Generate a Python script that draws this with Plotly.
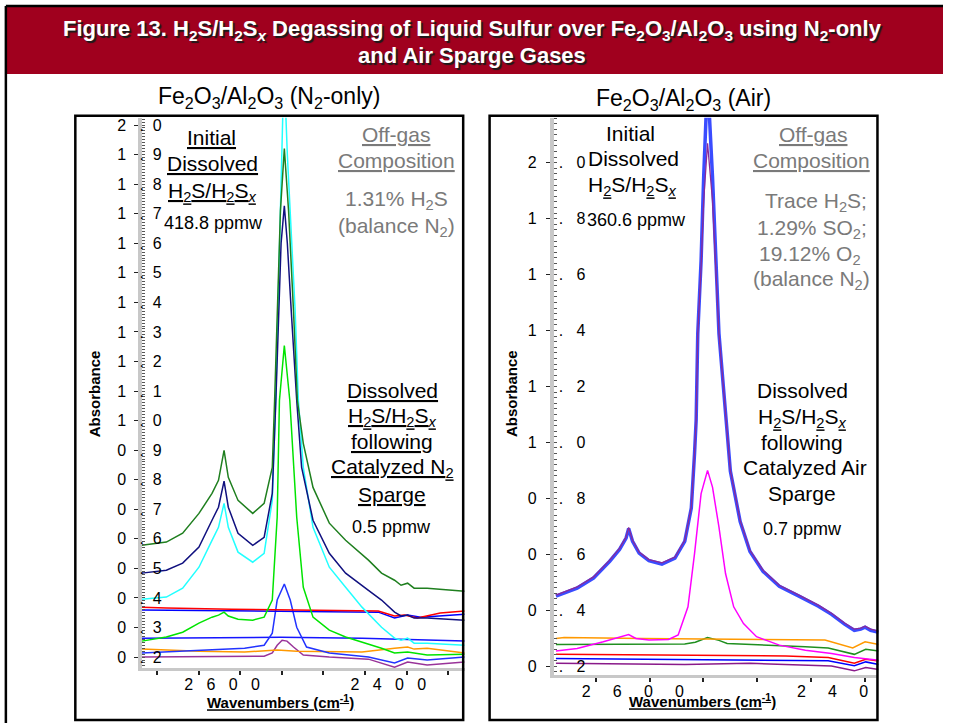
import plotly.graph_objects as go

W, H = 964, 723
FONT = "Liberation Sans, Arial, Helvetica, sans-serif"

# ---------------- Left panel: Fe2O3/Al2O3 (N2-only) ----------------
n2_dkgreen_x = [2696.5, 2667.0, 2647.4, 2627.8, 2612.1, 2604.3, 2597.6, 2592.5, 2580.8, 2563.1, 2549.4, 2539.6, 2536.8, 2533.8, 2529.8, 2525.1, 2520.0, 2514.1, 2509.4, 2502.3, 2490.6, 2471.0, 2451.4, 2423.9, 2408.2, 2392.5, 2384.7, 2376.8, 2369.0, 2353.3, 2308.2]
n2_dkgreen_y = [0.578, 0.589, 0.619, 0.686, 0.754, 0.798, 0.899, 0.808, 0.730, 0.686, 0.720, 0.842, 1.068, 1.372, 1.710, 1.920, 1.710, 1.372, 1.068, 0.923, 0.774, 0.653, 0.595, 0.528, 0.484, 0.460, 0.443, 0.450, 0.433, 0.433, 0.423]

n2_navy_x = [2696.5, 2667.0, 2647.4, 2627.8, 2612.1, 2604.3, 2597.6, 2592.5, 2580.8, 2563.1, 2549.4, 2539.6, 2535.3, 2531.8, 2529.0, 2525.1, 2521.5, 2516.8, 2510.2, 2504.3, 2490.6, 2471.0, 2451.4, 2423.9, 2408.2, 2392.5, 2384.7, 2376.8, 2369.0, 2353.3, 2308.2]
n2_navy_y = [0.484, 0.494, 0.518, 0.572, 0.663, 0.707, 0.795, 0.707, 0.619, 0.578, 0.605, 0.754, 1.068, 1.372, 1.600, 1.727, 1.600, 1.372, 1.068, 0.842, 0.663, 0.551, 0.484, 0.426, 0.393, 0.352, 0.339, 0.342, 0.332, 0.332, 0.325]

n2_cyan_x = [2696.5, 2667.0, 2647.4, 2627.8, 2612.1, 2604.3, 2597.6, 2592.5, 2580.8, 2563.1, 2549.4, 2539.6, 2535.5, 2533.0, 2529.8, 2525.5, 2521.5, 2518.0, 2512.1, 2508.2, 2502.3, 2490.6, 2471.0, 2451.4, 2431.7, 2408.2, 2392.5, 2384.7, 2376.8, 2369.0, 2353.3, 2308.2]
n2_cyan_y = [0.396, 0.403, 0.433, 0.504, 0.595, 0.639, 0.720, 0.639, 0.555, 0.521, 0.551, 0.730, 1.068, 1.372, 1.710, 2.200, 1.900, 1.710, 1.372, 1.068, 0.842, 0.639, 0.504, 0.436, 0.369, 0.301, 0.264, 0.257, 0.264, 0.247, 0.247, 0.240]

n2_lime_x = [2696.5, 2667.0, 2647.4, 2627.8, 2612.1, 2604.3, 2597.6, 2592.5, 2580.8, 2563.1, 2549.4, 2539.6, 2533.7, 2531.0, 2525.1, 2518.5, 2510.2, 2502.3, 2490.6, 2471.0, 2451.4, 2431.7, 2408.2, 2392.5, 2376.8, 2353.3, 2308.2]
n2_lime_y = [0.254, 0.268, 0.284, 0.315, 0.335, 0.342, 0.352, 0.339, 0.328, 0.325, 0.335, 0.393, 0.673, 1.068, 1.254, 1.068, 0.673, 0.436, 0.335, 0.291, 0.268, 0.251, 0.230, 0.214, 0.217, 0.207, 0.210]

n2_red_x = [2696.5, 2667.0, 2588.6, 2478.8, 2412.1, 2392.5, 2380.8, 2365.1, 2337.6, 2308.2]
n2_red_y = [0.369, 0.366, 0.362, 0.359, 0.356, 0.339, 0.342, 0.332, 0.349, 0.356]

n2_blue_hi_x = [2696.5, 2588.6, 2412.1, 2392.5, 2376.8, 2361.1, 2308.2]
n2_blue_hi_y = [0.359, 0.356, 0.352, 0.332, 0.342, 0.335, 0.345]

n2_blue_mid_x = [2696.5, 2529.8, 2431.7, 2308.2]
n2_blue_mid_y = [0.264, 0.267, 0.264, 0.254]

n2_blue_peak_x = [2696.5, 2627.8, 2572.9, 2549.4, 2539.6, 2533.7, 2525.1, 2518.0, 2510.2, 2498.4, 2471.0, 2423.9, 2392.5, 2376.8, 2353.3, 2308.2]
n2_blue_peak_y = [0.214, 0.224, 0.230, 0.240, 0.281, 0.393, 0.447, 0.393, 0.301, 0.234, 0.214, 0.200, 0.180, 0.197, 0.190, 0.200]

n2_orange_x = [2696.5, 2627.8, 2572.9, 2533.7, 2510.2, 2431.7, 2392.5, 2376.8, 2369.0, 2353.3, 2308.2]
n2_orange_y = [0.227, 0.220, 0.217, 0.224, 0.220, 0.217, 0.230, 0.234, 0.227, 0.230, 0.214]

n2_purple_x = [2696.5, 2596.5, 2549.4, 2539.6, 2533.7, 2527.8, 2521.9, 2514.1, 2502.3, 2471.0, 2423.9, 2392.5, 2376.8, 2353.3, 2308.2]
n2_purple_y = [0.200, 0.203, 0.203, 0.214, 0.240, 0.257, 0.254, 0.234, 0.207, 0.200, 0.193, 0.166, 0.183, 0.173, 0.183]

# ---------------- Right panel: Fe2O3/Al2O3 (Air) ----------------
air_big_x = [2671.5, 2651.8, 2636.6, 2621.5, 2612.4, 2606.3, 2603.9, 2600.3, 2594.2, 2585.1, 2573.0, 2560.9, 2551.8, 2545.7, 2542.7, 2541.2, 2539.7, 2536.6, 2534.2, 2530.6, 2526.0, 2523.0, 2520.0, 2513.3, 2509.4, 2500.3, 2491.2, 2479.1, 2463.9, 2445.7, 2427.6, 2415.4, 2403.3, 2394.2, 2388.2, 2384.2, 2379.1, 2371.5]
air_bigblue_y = [0.450, 0.479, 0.515, 0.575, 0.617, 0.658, 0.692, 0.646, 0.604, 0.577, 0.565, 0.586, 0.646, 0.765, 0.960, 1.079, 1.389, 1.650, 1.950, 2.300, 1.950, 1.650, 1.389, 1.079, 0.897, 0.717, 0.610, 0.539, 0.485, 0.450, 0.414, 0.385, 0.350, 0.328, 0.332, 0.339, 0.328, 0.321]
air_bigpurple_y = [0.454, 0.483, 0.519, 0.579, 0.621, 0.662, 0.696, 0.650, 0.608, 0.581, 0.569, 0.590, 0.650, 0.769, 0.961, 1.079, 1.389, 1.626, 1.864, 2.070, 1.864, 1.626, 1.389, 1.079, 0.900, 0.721, 0.614, 0.543, 0.489, 0.454, 0.418, 0.389, 0.354, 0.332, 0.336, 0.343, 0.332, 0.325]

air_magenta_x = [2671.5, 2651.8, 2627.5, 2609.4, 2603.9, 2597.2, 2585.1, 2566.9, 2557.9, 2548.8, 2542.7, 2536.6, 2530.6, 2526.0, 2520.0, 2513.9, 2506.3, 2497.2, 2485.1, 2463.9, 2439.7, 2415.4, 2394.2, 2371.5]
air_magenta_y = [0.254, 0.263, 0.287, 0.305, 0.313, 0.299, 0.293, 0.295, 0.311, 0.412, 0.602, 0.817, 0.900, 0.840, 0.697, 0.531, 0.412, 0.352, 0.305, 0.275, 0.257, 0.245, 0.231, 0.221]

air_orange_x = [2671.5, 2663.9, 2591.2, 2494.2, 2421.5, 2395.7, 2384.2, 2371.5]
air_orange_y = [0.299, 0.302, 0.299, 0.296, 0.293, 0.265, 0.287, 0.277]

air_green_x = [2671.5, 2551.8, 2542.0, 2530.6, 2520.0, 2512.4, 2439.7, 2418.5, 2394.2, 2383.6, 2371.5]
air_green_y = [0.277, 0.279, 0.285, 0.302, 0.292, 0.281, 0.269, 0.265, 0.242, 0.260, 0.254]

air_red_x = [2671.5, 2609.4, 2457.9, 2418.5, 2394.2, 2383.6, 2371.5]
air_red_y = [0.242, 0.240, 0.236, 0.231, 0.210, 0.224, 0.218]

air_blue_x = [2671.5, 2460.9, 2418.5, 2394.2, 2383.6, 2371.5]
air_blue_y = [0.227, 0.221, 0.219, 0.201, 0.215, 0.206]

air_violet_x = [2671.5, 2551.8, 2491.2, 2415.4, 2394.2, 2383.6, 2371.5]
air_violet_y = [0.210, 0.206, 0.210, 0.200, 0.183, 0.195, 0.188]

# ---------------- Tick labels ----------------
n2_ytick_vals = [0.2, 0.3, 0.4, 0.5, 0.6, 0.7, 0.8, 0.9, 1.0, 1.1, 1.2, 1.3, 1.4, 1.5, 1.6, 1.7, 1.8, 1.9, 2.0]
n2_ytick_labels = ["0.2", "0.3", "0.4", "0.5", "0.6", "0.7", "0.8", "0.9", "1.0", "1.1", "1.2", "1.3", "1.4", "1.5", "1.6", "1.7", "1.8", "1.9", "2.0"]
air_ytick_vals = [0.2, 0.4, 0.6, 0.8, 1.0, 1.2, 1.4, 1.6, 1.8, 2.0]
air_ytick_labels = ["0.2", "0.4", "0.6", "0.8", "1.0", "1.2", "1.4", "1.6", "1.8", "2.0"]
xtick_vals = [2600, 2400]
xtick_labels = ["2600", "2400"]

NB = "\u00a0"


def spread(label, gaps):
    out = label[0]
    for ch, g in zip(label[1:], gaps):
        out += NB * g + ch
    return out


fig = go.Figure()


def add(x, y, color, width=1.5, axis=1):
    fig.add_trace(go.Scatter(
        x=x, y=y, mode="lines", line=dict(color=color, width=width),
        xaxis="x" if axis == 1 else "x2", yaxis="y" if axis == 1 else "y2",
        showlegend=False, hoverinfo="skip"))


# left traces
add(n2_purple_x, n2_purple_y, "#993399")
add(n2_orange_x, n2_orange_y, "#FF9900")
add(n2_blue_mid_x, n2_blue_mid_y, "#1515FF")
add(n2_blue_peak_x, n2_blue_peak_y, "#2233FF")
add(n2_blue_hi_x, n2_blue_hi_y, "#0000FF")
add(n2_red_x, n2_red_y, "#FF0000")
add(n2_lime_x, n2_lime_y, "#00E400")
add(n2_cyan_x, n2_cyan_y, "#22FFFF")
add(n2_navy_x, n2_navy_y, "#10107F")
add(n2_dkgreen_x, n2_dkgreen_y, "#1F7F1F")

# right traces
add(air_violet_x, air_violet_y, "#8A1A8A", axis=2)
add(air_blue_x, air_blue_y, "#0000FF", axis=2)
add(air_red_x, air_red_y, "#FF0000", axis=2)
add(air_green_x, air_green_y, "#1F8F1F", axis=2)
add(air_orange_x, air_orange_y, "#FF9900", axis=2)
add(air_magenta_x, air_magenta_y, "#FF00FF", axis=2)
add(air_big_x, air_bigblue_y, "#3A4CFF", width=3.5, axis=2)
add(air_big_x, air_bigpurple_y, "#8B2A9A", width=1.3, axis=2)

tickfont = dict(size=16, color="black", family=FONT)
AXGRAY = "#C8C8C8"

common_x = dict(showgrid=False, zeroline=False, showline=True, linecolor=AXGRAY,
                linewidth=3, ticks="", tickmode="array", tickvals=xtick_vals,
                tickfont=tickfont, fixedrange=True)
common_y = dict(showgrid=False, zeroline=False, showline=True, linecolor=AXGRAY,
                linewidth=4, ticks="outside", ticklen=4, tickcolor="#222",
                tickmode="array", tickfont=tickfont, fixedrange=True)

fig.update_layout(
    width=W, height=H, autosize=False, margin=dict(l=0, r=0, t=0, b=0),
    paper_bgcolor="white", plot_bgcolor="white", showlegend=False,
    font=dict(family=FONT),
    xaxis=dict(common_x, domain=[145 / W, 475 / W], range=[2696.5, 2308.2], anchor="y",
               ticktext=[spread(t, [3, 3, 3]) for t in xtick_labels],
               minor=dict(tickmode="linear", tick0=2328, dtick=50, ticks="outside",
                          ticklen=4, tickcolor="#222", tickwidth=1.5)),
    yaxis=dict(common_y, domain=[1 - 668 / H, 1 - 117 / H], range=[0.1628, 2.0243], anchor="x",
               tickvals=n2_ytick_vals, ticktext=[spread(t, [3, 2]) for t in n2_ytick_labels],
               ticklabelstandoff=-31,
               minor=dict(tickmode="linear", tick0=0, dtick=0.01, ticks="inside",
                          ticklen=3, tickcolor="#555", tickwidth=1)),
    xaxis2=dict(common_x, domain=[566 / W, 898 / W], range=[2673.6, 2371.8], anchor="y2",
                ticktext=[spread(t, [5, 5, 5]) for t in xtick_labels],
                minor=dict(tickmode="linear", tick0=2384.5, dtick=50, ticks="outside",
                           ticklen=4, tickcolor="#222", tickwidth=1.5)),
    yaxis2=dict(common_y, domain=[1 - 675 / H, 1 - 117 / H], range=[0.1679, 2.1607], anchor="x2",
                tickvals=air_ytick_vals, ticktext=[spread(t, [5, 3]) for t in air_ytick_labels],
                ticklabelstandoff=-43,
                minor=dict(tickmode="linear", tick0=0, dtick=0.02, ticks="inside",
                           ticklen=3, tickcolor="#555", tickwidth=1)),
)


def px(x):
    return x / W


def py(y):
    return 1 - y / H


shapes = [
    dict(type="rect", xref="paper", yref="paper", x0=px(6), x1=1.0, y0=py(73), y1=py(5),
         fillcolor="#A0001E", line=dict(width=0), layer="above"),
    dict(type="line", xref="paper", yref="paper", x0=px(6), x1=1.0, y0=py(5), y1=py(5),
         line=dict(color="black", width=2.5), layer="above"),
    dict(type="line", xref="paper", yref="paper", x0=px(6), x1=px(6), y0=0.0, y1=py(5),
         line=dict(color="black", width=2.5), layer="above"),
    dict(type="rect", xref="paper", yref="paper", x0=px(899), x1=px(960), y0=py(705), y1=py(677),
         fillcolor="white", line=dict(width=0), layer="above"),
    dict(type="rect", xref="paper", yref="paper", x0=px(77), x1=px(473.5), y0=py(720), y1=py(115),
         line=dict(color="black", width=2.5), layer="above"),
    dict(type="rect", xref="paper", yref="paper", x0=px(500.5), x1=px(897), y0=py(720), y1=py(115),
         line=dict(color="black", width=2.5), layer="above"),
]
fig.update_layout(shapes=shapes)

GRAY = "#7A7A7A"
H2S = "H<sub>2</sub>S/H<sub>2</sub>S<sub><i>x</i></sub>"


def note(s, x, y, size=21, color="black", angle=0, shadow=None):
    f = dict(size=size, color=color, family=FONT)
    if shadow:
        f["shadow"] = shadow
    return dict(text=s, x=px(x), y=py(y), xref="paper", yref="paper", showarrow=False,
                xanchor="center", yanchor="middle", font=f, textangle=angle)


ann = [
    note("<b>Figure 13. H<sub>2</sub>S/H<sub>2</sub>S<sub><i>x</i></sub> Degassing of Liquid Sulfur over "
         "Fe<sub>2</sub>O<sub>3</sub>/Al<sub>2</sub>O<sub>3</sub> using N<sub>2</sub>-only</b>",
         483, 29, size=22, color="white", shadow="2px 2px 1px #1a1a1a"),
    note("<b>and Air Sparge Gases</b>", 483, 55, size=22, color="white", shadow="2px 2px 1px #1a1a1a"),
    note("Fe<sub>2</sub>O<sub>3</sub>/Al<sub>2</sub>O<sub>3</sub> (N<sub>2</sub>-only)", 275, 97, size=23),
    note("Fe<sub>2</sub>O<sub>3</sub>/Al<sub>2</sub>O<sub>3</sub> (Air)", 699, 99, size=23),
    # left panel
    note("<u>Initial</u>", 216, 137),
    note("<u>Dissolved</u>", 217, 163),
    note("<u>" + H2S + "</u>", 217, 191),
    note("418.8 ppmw", 218, 222, size=18),
    note("<u>Off-gas</u>", 405, 134, color=GRAY),
    note("<u>Composition</u>", 405, 160, color=GRAY),
    note("1.31% H<sub>2</sub>S", 405, 199, color=GRAY),
    note("(balance N<sub>2</sub>)", 405, 226, color=GRAY),
    note("<u>Dissolved</u>", 401, 390),
    note("<u>" + H2S + "</u>", 401, 417),
    note("<u>following</u>", 401, 441),
    note("<u>Catalyzed N<sub>2</sub></u>", 401, 468),
    note("<u>Sparge</u>", 401, 494),
    note("0.5 ppmw", 400, 527, size=18),
    # right panel
    note("Initial", 645, 133),
    note("Dissolved", 648, 158),
    note("H<sub><u>2</u></sub>S/H<sub><u>2</u></sub>S<sub><u><i>x</i></u></sub>", 647, 185),
    note("360.6 ppmw", 651, 219, size=18),
    note("<u>Off-gas</u>", 831, 134, color=GRAY),
    note("<u>Composition</u>", 830, 160, color=GRAY),
    note("Trace H<sub>2</sub>S;", 834, 201, color=GRAY),
    note("1.29% SO<sub>2</sub>;", 830, 228, color=GRAY),
    note("19.12% O<sub>2</sub>", 828, 254, color=GRAY),
    note("(balance N<sub>2</sub>)", 830, 279, color=GRAY),
    note("Dissolved", 820, 390),
    note("H<sub><u>2</u></sub>S/H<sub><u>2</u></sub>S<sub><u><i>x</i></u></sub>", 820, 418),
    note("following", 820, 442),
    note("Catalyzed Air", 823, 467),
    note("Sparge", 820, 493),
    note("0.7 ppmw", 820, 529, size=18),
    # axis titles
    note("<b>Absorbance</b>", 97, 393, size=15, angle=-90),
    note("<b>Absorbance</b>", 523, 393, size=15, angle=-90),
    note("<b><u>Wavenumbers (cm<sup>-1</sup>)</u></b>", 287, 701, size=15),
    note("<b><u>Wavenumbers (cm<sup>-1</sup>)</u></b>", 718, 700, size=15),
]
fig.update_layout(annotations=ann)

fig.write_html(
    "out.html",
    config={"responsive": False, "displayModeBar": False},
    post_script="document.documentElement.style.overflow='hidden';"
                "document.body.style.margin='0';document.body.style.overflow='hidden';"
                "var gd=document.getElementById('{plot_id}');"
                "Plotly.relayout(gd,{width:964,height:723,autosize:false});",
)
